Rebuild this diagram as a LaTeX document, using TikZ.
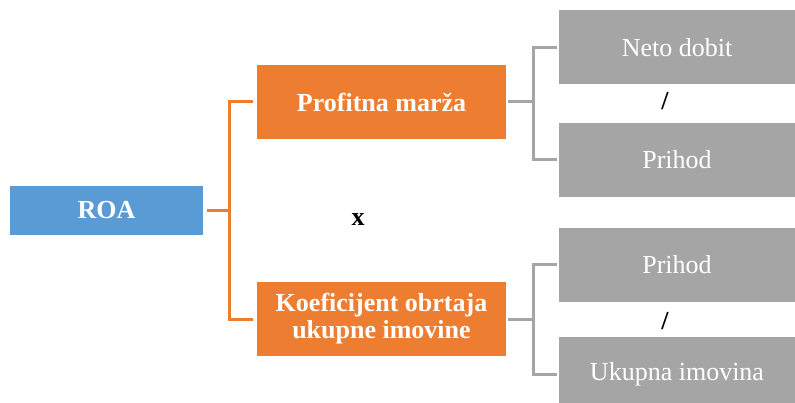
\documentclass[tikz,border=0pt]{standalone}
\usepackage{fontspec}
\setmainfont{Liberation Serif}
\definecolor{roablue}{HTML}{5B9BD5}
\definecolor{roaorange}{HTML}{ED7D31}
\definecolor{roagray}{HTML}{A5A5A5}
\begin{document}
\begin{tikzpicture}[x=1pt,y=-1pt,
  mainbox/.style={inner sep=0pt,text=white,align=center,font=\fontsize{26}{27}\selectfont\bfseries,minimum width=249pt,minimum height=74pt,fill=roaorange},
  subbox/.style={inner sep=0pt,text=white,font=\fontsize{26}{27}\selectfont,minimum width=236pt,minimum height=74pt,fill=roagray},
  sign/.style={inner sep=0pt,font=\fontsize{26}{27}\selectfont\bfseries}]
\clip (0,0) rectangle (795,403);
\node[mainbox,fill=roablue,minimum width=193pt,minimum height=49pt] (roa) at (106.5,210.5) {ROA};
\node[mainbox] (pm) at (381.5,102) {Profitna marža};
\node[mainbox] (kob) at (381.5,319) {Koeficijent obrtaja\\ukupne imovine};
\node[subbox] (nd) at (677,47.5) {Neto dobit};
\node[subbox] (prA) at (677,160) {Prihod};
\node[subbox] (prB) at (677,265) {Prihod};
\node[subbox] (ui) at (677,374) {Ukupna imovina};
\node[sign] (times) at (358,220) {x};
\node[sign] (divA) at (665,101) {/};
\node[sign] (divB) at (665,321) {/};
\draw [roaorange,line width=3pt,shorten <=4pt,shorten >=4pt] (roa.east) -- ++(26,0) |- (pm.west);
\draw [roaorange,line width=3pt,shorten <=4pt,shorten >=4pt] (roa.east) -- ++(26,0) |- (kob.west);
\draw [roagray,line width=3pt,shorten <=2pt,shorten >=2pt] (pm.east) -- ++(27,0) |- (nd.west);
\draw [roagray,line width=3pt,shorten <=2pt,shorten >=2pt] (pm.east) -- ++(27,0) |- (prA.west);
\draw [roagray,line width=3pt,shorten <=2pt,shorten >=2pt] (kob.east) -- ++(27,0) |- (prB.west);
\draw [roagray,line width=3pt,shorten <=2pt,shorten >=2pt] (kob.east) -- ++(27,0) |- (ui.west);
\end{tikzpicture}
\end{document}
